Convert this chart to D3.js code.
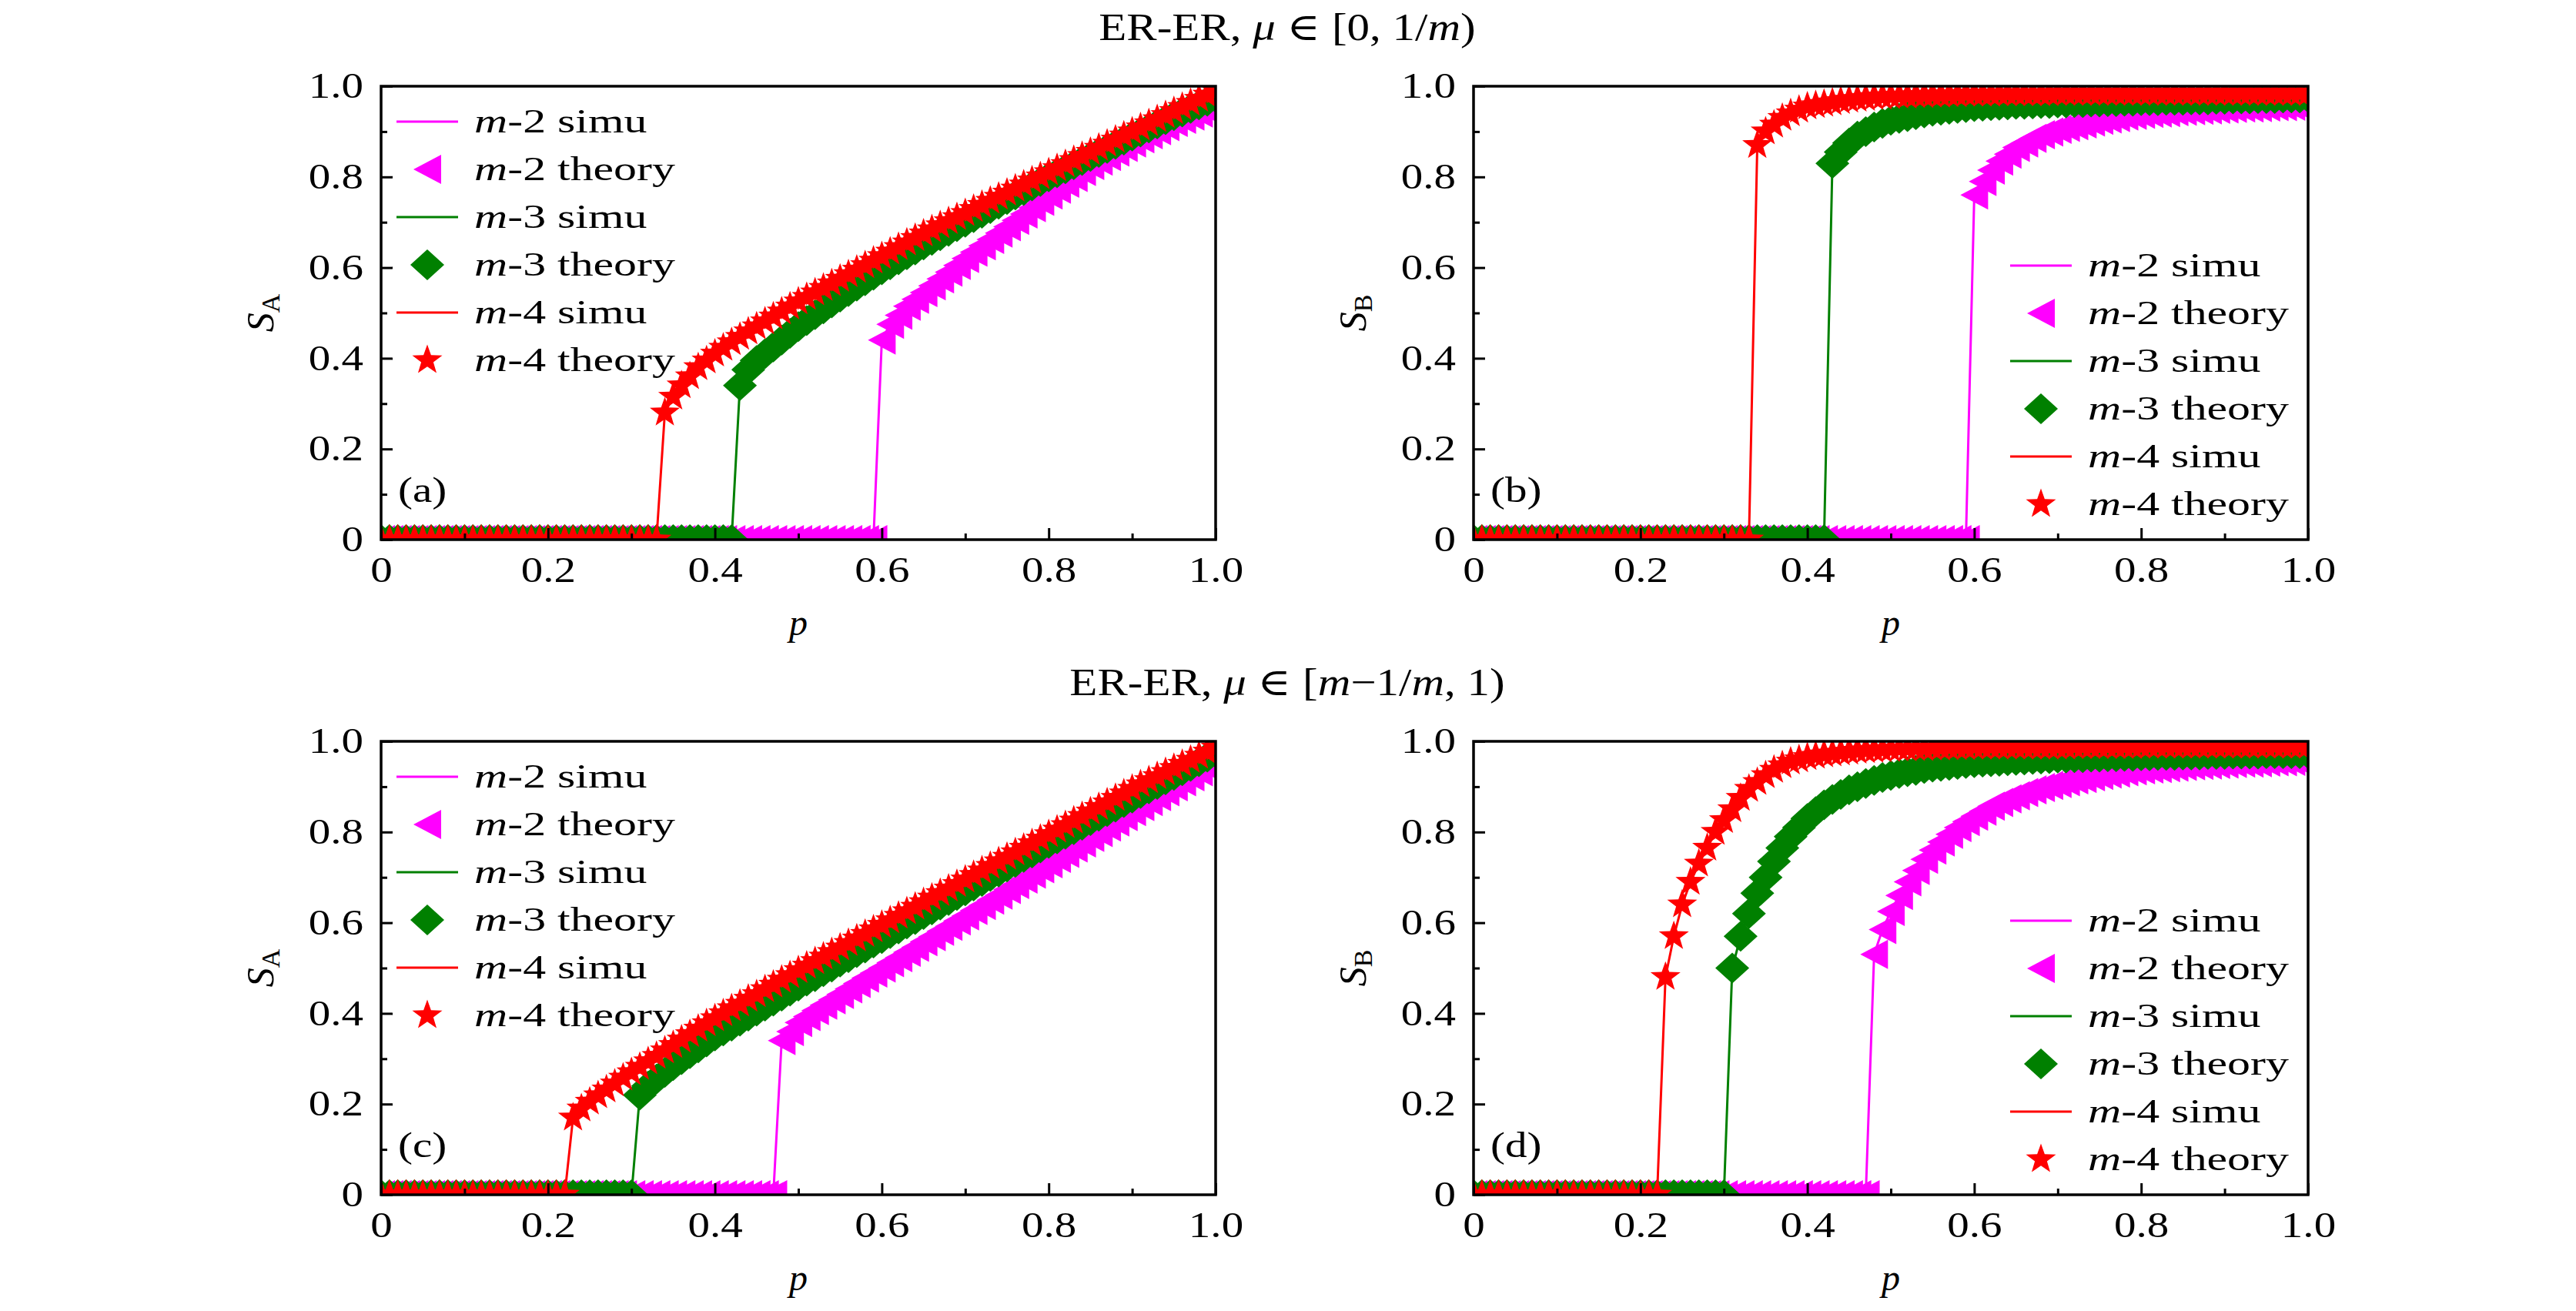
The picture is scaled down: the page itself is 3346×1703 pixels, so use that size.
<!DOCTYPE html>
<html>
<head>
<meta charset="utf-8">
<script src="https://d3js.org/d3.v7.min.js"></script>
<title>ER-ER S_A / S_B vs p</title>
<style>body{margin:0;background:#fff}</style>
</head>
<body>
<svg></svg>
<script type="text/javascript">

// ---- data ----
var pGrid = [
  0,0.01,0.02,0.03,0.04,0.05,0.06,0.07,0.08,0.09,
  0.1,0.11,0.12,0.13,0.14,0.15,0.16,0.17,0.18,0.19,
  0.2,0.21,0.22,0.23,0.24,0.25,0.26,0.27,0.28,0.29,
  0.3,0.31,0.32,0.33,0.34,0.35,0.36,0.37,0.38,0.39,
  0.4,0.41,0.42,0.43,0.44,0.45,0.46,0.47,0.48,0.49,
  0.5,0.51,0.52,0.53,0.54,0.55,0.56,0.57,0.58,0.59,
  0.6,0.61,0.62,0.63,0.64,0.65,0.66,0.67,0.68,0.69,
  0.7,0.71,0.72,0.73,0.74,0.75,0.76,0.77,0.78,0.79,
  0.8,0.81,0.82,0.83,0.84,0.85,0.86,0.87,0.88,0.89,
  0.9,0.91,0.92,0.93,0.94,0.95,0.96,0.97,0.98,0.99,
  1
];

// (a) S_A, mu in [0, 1/m)
var aM2 = [
  0,0,0,0,0,0,0,0,0,0, 0,0,0,0,0,0,0,0,0,0, 0,0,0,0,0,0,0,0,0,0,
  0,0,0,0,0,0,0,0,0,0, 0,0,0,0,0,0,0,0,0,0, 0,0,0,0,0,0,0,0,0,0,
  0.44,0.475,0.495,0.515,0.53,0.545,0.56,0.575,0.59,0.605,
  0.62,0.634,0.648,0.662,0.676,0.69,0.704,0.718,0.732,0.746,
  0.76,0.773,0.786,0.799,0.812,0.825,0.835,0.845,0.855,0.865,
  0.875,0.884,0.893,0.902,0.911,0.92,0.927,0.934,0.941,0.948,
  0.955
];
var aM3 = [
  0,0,0,0,0,0,0,0,0,0, 0,0,0,0,0,0,0,0,0,0, 0,0,0,0,0,0,0,0,0,0,
  0,0,0,0,0,0,0,0,0,0,
  0,0,0,0.34,0.375,0.395,0.41,0.425,0.44,0.455,
  0.47,0.483,0.496,0.509,0.522,0.535,0.547,0.559,0.571,0.583,
  0.595,0.606,0.617,0.628,0.639,0.65,0.66,0.67,0.68,0.69,
  0.70,0.71,0.72,0.73,0.74,0.75,0.76,0.77,0.78,0.79,
  0.80,0.809,0.818,0.827,0.836,0.845,0.854,0.863,0.872,0.881,
  0.89,0.899,0.908,0.917,0.926,0.935,0.943,0.951,0.959,0.967,
  0.975
];
var aM4 = [
  0,0,0,0,0,0,0,0,0,0, 0,0,0,0,0,0,0,0,0,0, 0,0,0,0,0,0,0,0,0,0,
  0,0,0,0,0.28,0.315,0.34,0.36,0.38,0.395,
  0.41,0.423,0.435,0.447,0.459,0.47,0.481,0.492,0.503,0.514,
  0.525,0.535,0.545,0.555,0.565,0.575,0.585,0.595,0.605,0.615,
  0.625,0.635,0.645,0.655,0.665,0.675,0.684,0.693,0.702,0.711,
  0.72,0.729,0.738,0.747,0.756,0.765,0.774,0.783,0.792,0.801,
  0.81,0.819,0.828,0.837,0.846,0.855,0.864,0.873,0.882,0.891,
  0.90,0.909,0.918,0.927,0.936,0.945,0.954,0.963,0.972,0.981,
  0.99
];

// (b) S_B, mu in [0, 1/m)
var bM2 = [
  0,0,0,0,0,0,0,0,0,0, 0,0,0,0,0,0,0,0,0,0, 0,0,0,0,0,0,0,0,0,0,
  0,0,0,0,0,0,0,0,0,0, 0,0,0,0,0,0,0,0,0,0, 0,0,0,0,0,0,0,0,0,0,
  0.76,0.79,0.815,0.835,0.85,0.865,0.875,0.885,0.893,0.899,
  0.905,0.909,0.913,0.917,0.921,0.925,0.928,0.931,0.934,0.936,
  0.938,0.94,0.941,0.942,0.944,0.945,0.946,0.947,0.948,0.949,
  0.95,0.951,0.952,0.952,0.953,0.954,0.955,0.955,0.956,0.956,
  0.957
];
var bM3 = [
  0,0,0,0,0,0,0,0,0,0, 0,0,0,0,0,0,0,0,0,0, 0,0,0,0,0,0,0,0,0,0,
  0,0,0,0,0,0,0,0,0,0,
  0,0,0,0.83,0.855,0.875,0.89,0.90,0.91,0.918,
  0.925,0.929,0.933,0.937,0.941,0.945,0.947,0.949,0.951,0.953,
  0.955,0.956,0.957,0.958,0.959,0.96,0.96,0.961,0.962,0.962,
  0.963,0.963,0.964,0.964,0.965,0.965,0.966,0.966,0.967,0.967,
  0.968,0.968,0.968,0.969,0.969,0.969,0.97,0.97,0.97,0.971,
  0.971,0.972,0.972,0.972,0.973,0.973,0.973,0.974,0.974,0.974,
  0.975
];
var bM4 = [
  0,0,0,0,0,0,0,0,0,0, 0,0,0,0,0,0,0,0,0,0, 0,0,0,0,0,0,0,0,0,0,
  0,0,0,0,0.87,0.90,0.915,0.93,0.94,0.948,
  0.955,0.958,0.961,0.964,0.967,0.97,0.972,0.974,0.976,0.977,
  0.978,0.979,0.979,0.98,0.98,0.981,0.981,0.982,0.982,0.983,
  0.983,0.983,0.983,0.984,0.984,0.984,0.984,0.984,0.984,0.984,
  0.985,0.985,0.985,0.985,0.985,0.985,0.985,0.985,0.985,0.985,
  0.985,0.985,0.985,0.985,0.985,0.985,0.985,0.985,0.985,0.985,
  0.985,0.985,0.985,0.985,0.985,0.985,0.985,0.985,0.985,0.985,
  0.985
];

// (c) S_A, mu in [m-1/m, 1)
var cM2 = [
  0,0,0,0,0,0,0,0,0,0, 0,0,0,0,0,0,0,0,0,0, 0,0,0,0,0,0,0,0,0,0,
  0,0,0,0,0,0,0,0,0,0,
  0,0,0,0,0,0,0,0,0.34,0.36,
  0.38,0.393,0.406,0.418,0.43,0.442,0.454,0.466,0.478,0.489,
  0.50,0.512,0.523,0.535,0.546,0.558,0.569,0.581,0.592,0.604,
  0.615,0.627,0.638,0.65,0.661,0.673,0.684,0.696,0.707,0.719,
  0.73,0.742,0.753,0.765,0.776,0.788,0.799,0.811,0.822,0.834,
  0.845,0.856,0.867,0.878,0.889,0.90,0.911,0.922,0.933,0.944,
  0.955
];
var cM3 = [
  0,0,0,0,0,0,0,0,0,0, 0,0,0,0,0,0,0,0,0,0, 0,0,0,0,0,0,0,0,0,0,
  0,0.22,0.24,0.255,0.27,0.285,0.298,0.311,0.324,0.337,
  0.35,0.361,0.372,0.383,0.394,0.405,0.416,0.427,0.438,0.449,
  0.46,0.471,0.481,0.492,0.502,0.513,0.523,0.534,0.544,0.555,
  0.565,0.576,0.586,0.597,0.607,0.618,0.628,0.639,0.649,0.66,
  0.67,0.681,0.691,0.702,0.712,0.723,0.733,0.744,0.754,0.765,
  0.775,0.785,0.795,0.805,0.815,0.825,0.835,0.845,0.855,0.865,
  0.875,0.885,0.895,0.905,0.915,0.925,0.935,0.945,0.955,0.965,
  0.975
];
var cM4 = [
  0,0,0,0,0,0,0,0,0,0, 0,0,0,0,0,0,0,0,0,0,
  0,0,0,0.17,0.19,0.205,0.219,0.232,0.245,0.258,
  0.27,0.282,0.294,0.306,0.318,0.33,0.342,0.354,0.366,0.378,
  0.389,0.40,0.411,0.421,0.432,0.442,0.453,0.463,0.474,0.484,
  0.495,0.505,0.515,0.525,0.535,0.545,0.555,0.565,0.575,0.585,
  0.595,0.605,0.615,0.625,0.635,0.645,0.655,0.665,0.675,0.685,
  0.695,0.705,0.715,0.725,0.735,0.745,0.755,0.765,0.775,0.785,
  0.795,0.805,0.815,0.825,0.835,0.845,0.855,0.865,0.875,0.885,
  0.895,0.905,0.914,0.923,0.932,0.941,0.95,0.959,0.968,0.977,
  0.986
];

// (d) S_B, mu in [m-1/m, 1)
var dM2 = [
  0,0,0,0,0,0,0,0,0,0, 0,0,0,0,0,0,0,0,0,0, 0,0,0,0,0,0,0,0,0,0,
  0,0,0,0,0,0,0,0,0,0,
  0,0,0,0,0,0,0,0,0.53,0.585,
  0.625,0.66,0.69,0.715,0.74,0.76,0.778,0.795,0.81,0.823,
  0.835,0.846,0.857,0.865,0.873,0.88,0.887,0.893,0.898,0.903,
  0.907,0.911,0.915,0.918,0.922,0.925,0.928,0.93,0.933,0.935,
  0.937,0.939,0.94,0.942,0.943,0.945,0.946,0.947,0.948,0.949,
  0.95,0.951,0.952,0.952,0.953,0.954,0.955,0.955,0.956,0.956,
  0.957
];
var dM3 = [
  0,0,0,0,0,0,0,0,0,0, 0,0,0,0,0,0,0,0,0,0, 0,0,0,0,0,0,0,0,0,0,
  0,0.50,0.57,0.62,0.665,0.70,0.735,0.765,0.79,0.81,
  0.83,0.845,0.86,0.872,0.883,0.893,0.90,0.907,0.914,0.92,
  0.925,0.929,0.933,0.936,0.94,0.943,0.945,0.947,0.949,0.951,
  0.953,0.954,0.955,0.956,0.957,0.958,0.959,0.96,0.961,0.962,
  0.963,0.963,0.964,0.964,0.965,0.965,0.966,0.966,0.967,0.967,
  0.968,0.968,0.969,0.969,0.969,0.97,0.97,0.97,0.971,0.971,
  0.971,0.972,0.972,0.972,0.972,0.973,0.973,0.973,0.973,0.973,
  0.973
];
var dM4 = [
  0,0,0,0,0,0,0,0,0,0, 0,0,0,0,0,0,0,0,0,0,
  0,0,0,0.48,0.57,0.64,0.69,0.73,0.765,0.80,
  0.826,0.85,0.875,0.895,0.91,0.925,0.937,0.947,0.955,0.96,
  0.965,0.968,0.971,0.973,0.975,0.977,0.979,0.98,0.981,0.982,
  0.983,0.984,0.984,0.985,0.985,0.986,0.986,0.987,0.987,0.987,
  0.988,0.988,0.988,0.988,0.988,0.988,0.988,0.988,0.988,0.988,
  0.988,0.988,0.989,0.989,0.989,0.989,0.989,0.989,0.989,0.989,
  0.99,0.99,0.99,0.99,0.99,0.99,0.99,0.99,0.99,0.99,
  0.99,0.99,0.99,0.99,0.99,0.99,0.99,0.99,0.99,0.99,
  0.99
];

var majorTicks = [0, 0.2, 0.4, 0.6, 0.8, 1.0];
var majorLabels = ["0", "0.2", "0.4", "0.6", "0.8", "1.0"];
var minorTicks = [0.1, 0.3, 0.5, 0.7, 0.9];
var seriesLabels = ["-2", "-3", "-4"];
var seriesColors = ["#ff00ff", "#008000", "#ff0000"];
var titles = ["ER-ER, μ ∈ [0, 1/m)", "ER-ER, μ ∈ [m−1/m, 1)"];

// ---- layout ----
var width = 3346, height = 1703;
var pw = 1084, ph = 589;
var FONT = "'Liberation Serif', 'DejaVu Serif', serif";

var panels = [
  {tag: "(a)", sub: "A", left: 495,  top: 112, series: [aM2, aM3, aM4], legendX: 20,  legendY: 46},
  {tag: "(b)", sub: "B", left: 1914, top: 112, series: [bM2, bM3, bM4], legendX: 697, legendY: 233},
  {tag: "(c)", sub: "A", left: 495,  top: 963, series: [cM2, cM3, cM4], legendX: 20,  legendY: 46},
  {tag: "(d)", sub: "B", left: 1914, top: 963, series: [dM2, dM3, dM4], legendX: 697, legendY: 233}
];

var svg = d3.select("svg")
            .attr("width", width)
            .attr("height", height)
            .style("font-family", FONT);

// marker shapes: left triangle, diamond, star
function starPath(R, r) {
  var pts = [];
  for (var k = 0; k < 10; k++) {
    var a = -Math.PI / 2 + k * Math.PI / 5, rad = k % 2 ? r : R;
    pts.push([rad * Math.cos(a), rad * Math.sin(a)]);
  }
  return "M" + pts.map(p => p[0].toFixed(2) + "," + p[1].toFixed(2)).join("L") + "Z";
}
var shapes = [
  "M-18,0L18,-19L18,19Z",
  "M0,-20L22,0L0,20L-22,0Z",
  starPath(20.5, 8.3)
];

// the source figure is stretched sideways, so text is widened with sx
function stext(g, x, y, size, sx, anchor) {
  return g.append("text")
          .attr("transform", "translate(" + x + "," + y + ") scale(" + sx + ",1)")
          .attr("font-size", size)
          .attr("text-anchor", anchor || "start")
          .attr("fill", "#000");
}

titles.forEach(function (t, k) {
  var txt = stext(svg, 1672, k ? 903 : 52, 50, 1.18, "middle");
  t.split(/(μ|m)/).forEach(function (part) {
    if (!part) return;
    txt.append("tspan").text(part)
       .attr("font-style", (part === "μ" || part === "m") ? "italic" : "normal");
  });
});

panels.forEach(function (pn, pi) {
  var x = d3.scaleLinear().domain([0, 1]).range([pn.left, pn.left + pw]);
  var y = d3.scaleLinear().domain([0, 1]).range([pn.top + ph, pn.top]);
  var g = svg.append("g");

  var clipId = "clip" + pi;
  svg.append("clipPath").attr("id", clipId)
     .append("rect")
     .attr("x", pn.left).attr("y", pn.top)
     .attr("width", pw).attr("height", ph);

  var plot = g.append("g").attr("clip-path", "url(#" + clipId + ")");
  var line = d3.line().x((d, i) => x(pGrid[i])).y(d => y(d));

  pn.series.forEach(function (vals, si) {
    // simulation curve (coincides with theory at this resolution)
    plot.append("path")
        .datum(vals)
        .attr("d", line)
        .attr("fill", "none")
        .attr("stroke", seriesColors[si])
        .attr("stroke-width", 3);
    // theory markers
    plot.selectAll("path.mk" + si)
        .data(vals)
        .join("path")
        .attr("class", "mk" + si)
        .attr("transform", (d, i) => "translate(" + x(pGrid[i]) + "," + y(d) + ")")
        .attr("d", shapes[si])
        .attr("fill", seriesColors[si]);
  });

  // axes: ticks inward, labels outside
  function styleAxis(sel) {
    sel.select(".domain").remove();
    sel.attr("font-size", 46).attr("font-family", FONT);
    sel.selectAll("line").attr("stroke", "#000").attr("stroke-width", 3);
    sel.selectAll("text").attr("fill", "#000");
  }
  g.append("g")
   .attr("transform", "translate(0," + (pn.top + ph) + ")")
   .call(d3.axisBottom(x).tickValues(majorTicks)
           .tickFormat((d, i) => majorLabels[i]).tickSize(-15).tickPadding(22))
   .call(styleAxis)
   .call(s => s.selectAll("text").attr("transform", "scale(1.24,1)"));
  g.append("g")
   .attr("transform", "translate(0," + (pn.top + ph) + ")")
   .call(d3.axisBottom(x).tickValues(minorTicks).tickFormat("").tickSize(-8))
   .call(styleAxis);
  g.append("g")
   .attr("transform", "translate(" + pn.left + ",0)")
   .call(d3.axisLeft(y).tickValues(majorTicks)
           .tickFormat((d, i) => majorLabels[i]).tickSize(-15).tickPadding(18.5))
   .call(styleAxis)
   .call(s => s.selectAll("text").attr("transform", "scale(1.24,1)"));
  g.append("g")
   .attr("transform", "translate(" + pn.left + ",0)")
   .call(d3.axisLeft(y).tickValues(minorTicks).tickFormat("").tickSize(-8))
   .call(styleAxis);

  g.append("rect")
   .attr("x", pn.left).attr("y", pn.top)
   .attr("width", pw).attr("height", ph)
   .attr("fill", "none").attr("stroke", "#000").attr("stroke-width", 3.5);

  // axis titles
  g.append("text")
   .attr("transform", "translate(" + (pn.left - 140) + "," + (pn.top + ph / 2) + ") rotate(-90)")
   .attr("text-anchor", "middle")
   .attr("font-size", 50)
   .call(t => t.append("tspan").attr("font-style", "italic").text("S"))
   .call(t => t.append("tspan").attr("font-size", 34).attr("dy", 8).text(pn.sub));
  g.append("text")
   .attr("x", pn.left + pw / 2).attr("y", pn.top + ph + 124)
   .attr("text-anchor", "middle")
   .attr("font-size", 48).attr("font-style", "italic")
   .text("p");

  stext(g, pn.left + 22, pn.top + ph - 49, 46, 1.24).text(pn.tag);

  // legend
  var lx = pn.left + pn.legendX, ly = pn.top + pn.legendY, step = 62;
  seriesLabels.forEach(function (lab, si) {
    var y1 = ly + step * 2 * si, y2 = y1 + step;
    g.append("line")
     .attr("x1", lx).attr("x2", lx + 80)
     .attr("y1", y1).attr("y2", y1)
     .attr("stroke", seriesColors[si]).attr("stroke-width", 3);
    g.append("path")
     .attr("transform", "translate(" + (lx + 40) + "," + y2 + ")")
     .attr("d", shapes[si])
     .attr("fill", seriesColors[si]);
    [[y1, " simu"], [y2, " theory"]].forEach(function (row) {
      var t = stext(g, lx + 101, row[0] + 14, 44, 1.36);
      t.append("tspan").attr("font-style", "italic").text("m");
      t.append("tspan").text(lab + row[1]);
    });
  });
});

</script>
</body>
</html>
